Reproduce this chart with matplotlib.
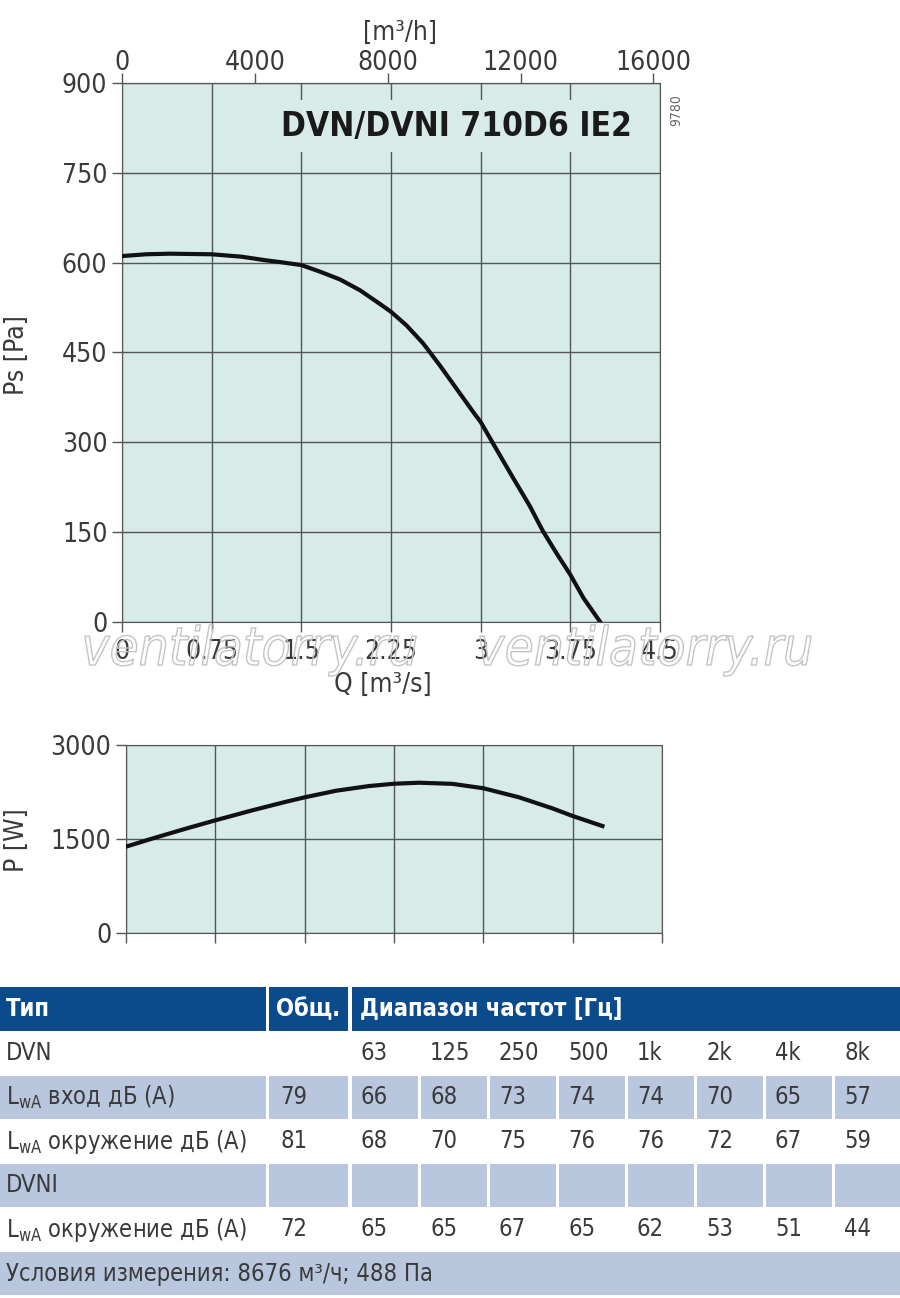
import matplotlib
matplotlib.use('Agg')

import matplotlib.pyplot as plt
import matplotlib.patheffects as pe
from matplotlib.patches import Rectangle

plt.rcParams['font.family'] = ['DejaVu Sans']
plt.rcParams['font.stretch'] = 'condensed'

# Кривая давления Ps(Q)
q_ps = [0, 0.2, 0.4, 0.75, 1.0, 1.2, 1.32, 1.5, 1.656, 1.823, 1.99, 2.158, 2.25, 2.381, 2.52,
        2.66, 2.80, 2.94, 3.0, 3.13, 3.27, 3.41, 3.52, 3.64, 3.75, 3.86, 4.0]
ps = [611, 614, 615, 614, 610, 604, 601, 596, 585, 572, 554, 531, 518, 495, 465,
      428, 389, 350, 334, 289, 241, 194, 152, 113, 79, 40, 0]

# Кривая мощности P(Q)
q_p = [0, 0.229, 0.508, 0.75, 1.065, 1.345, 1.5, 1.763, 2.04, 2.25, 2.46, 2.74, 3.0,
       3.30, 3.58, 3.75, 4.0]
p = [1378, 1512, 1668, 1798, 1960, 2095, 2165, 2270, 2345, 2382, 2398, 2380, 2310,
     2165, 1989, 1867, 1707]

q_ticks = [0, 0.75, 1.5, 2.25, 3, 3.75, 4.5]
q_tick_labels = ['0', '0.75', '1.5', '2.25', '3', '3.75', '4.5']
m3h_ticks = [0, 4000, 8000, 12000, 16000]
ps_ticks = [0, 150, 300, 450, 600, 750, 900]
p_ticks = [0, 1500, 3000]

titulo = 'DVN/DVNI 710D6 IE2'

# Таблица шума
col_tipo = 'Тип'
col_total = 'Общ.'
col_rango = 'Диапазон частот [Гц]'
freqs = ['63', '125', '250', '500', '1k', '2k', '4k', '8k']
row_labels = ['DVN', 'L$_{\\mathregular{wA}}$ вход дБ (А)', 'L$_{\\mathregular{wA}}$ окружение дБ (А)',
              'DVNI', 'L$_{\\mathregular{wA}}$ окружение дБ (А)']
dvn_in_total = '79'
dvn_in = [66, 68, 73, 74, 74, 70, 65, 57]
dvn_env_total = '81'
dvn_env = [68, 70, 75, 76, 76, 72, 67, 59]
dvni_env_total = '72'
dvni_env = [65, 65, 67, 65, 62, 53, 51, 44]
condiciones = 'Условия измерения: 8676 м³/ч; 488 Па'

bg = '#d7ebe9'
grid_c = '#555555'
txt_c = '#3a3a3a'
azul = '#0b4a8b'
azul_claro = '#b8c6de'

fig = plt.figure(figsize=(9, 12.98), dpi=100)

# ---------- grafica de presion ----------
ax = fig.add_axes([122/900, 1-622/1298, 538/900, 539/1298])
ax.set_facecolor(bg)
ax.plot(q_ps, ps, color='#111111', lw=3, zorder=5)
ax.set_xlim(0, 4.5)
ax.set_ylim(0, 900)
ax.set_xticks(q_ticks)
ax.set_xticklabels(q_tick_labels)
ax.set_yticks(ps_ticks)
ax.grid(True, color=grid_c, lw=1)
ax.tick_params(labelsize=19, colors=grid_c, labelcolor=txt_c, length=7, width=1)
ax.tick_params(axis='x', pad=5)
for s in ax.spines.values():
    s.set_color(grid_c)
ax.set_ylabel('Ps [Pa]', fontsize=19, color=txt_c)
ax.yaxis.set_label_coords(-0.172, 0.495)
ax.set_xlabel('Q [m³/s]', fontsize=19, color=txt_c)
ax.xaxis.set_label_coords(0.485, -0.092)

secax = ax.secondary_xaxis('top', functions=(lambda q: q * 3600, lambda h: h / 3600))
secax.set_xticks(m3h_ticks)
secax.tick_params(labelsize=19, colors=grid_c, labelcolor=txt_c, length=7, width=1, pad=-2)
secax.spines['top'].set_color(grid_c)
fig.text(400/900, 1-46/1298, '[m³/h]', fontsize=19, color=txt_c, ha='center', va='bottom')

ax.text(0.948, 0.92, titulo, transform=ax.transAxes, ha='right', va='center',
        fontsize=24, fontweight='bold', color='#1a1a1a', zorder=6,
        bbox=dict(facecolor=bg, edgecolor='none', pad=7))
fig.text(676/900, 1-110/1298, '9780', rotation=90, fontsize=10, color='#666666',
         ha='center', va='center')

# marca de agua
for xc in [250, 645]:
    fig.text(xc/900, 1-650/1298, 'ventilatorry.ru', fontsize=38, style='italic',
             color='none', ha='center', va='center', zorder=10,
             path_effects=[pe.withStroke(linewidth=1, foreground='#c4c4c4')])

# ---------- grafica de potencia ----------
ax2 = fig.add_axes([126/900, 1-933/1298, 536/900, 188/1298])
ax2.set_facecolor(bg)
ax2.plot(q_p, p, color='#111111', lw=3, zorder=5)
ax2.set_xlim(0, 4.5)
ax2.set_ylim(0, 3000)
ax2.set_xticks(q_ticks)
ax2.set_xticklabels([])
ax2.set_yticks(p_ticks)
ax2.grid(True, color=grid_c, lw=1)
ax2.tick_params(labelsize=19, colors=grid_c, labelcolor=txt_c, length=7, width=1)
for s in ax2.spines.values():
    s.set_color(grid_c)
ax2.set_ylabel('P [W]', fontsize=19, color=txt_c)
ax2.yaxis.set_label_coords(-0.18, 0.495)

# ---------- tabla ----------
tab = fig.add_axes([0, 0, 1, 1], zorder=-1)
tab.set_xlim(0, 900)
tab.set_ylim(1298, 0)
tab.axis('off')

col0 = (0, 266)
col1 = (269, 348)
freq_x = [352 + i * 69 for i in range(len(freqs))]
cw = 66
row_y = [1032, 1076, 1120, 1164, 1208, 1252]
rh = 43

def celdas(y, color):
    tab.add_patch(Rectangle((col0[0], y), col0[1] - col0[0], rh, color=color, lw=0))
    tab.add_patch(Rectangle((col1[0], y), col1[1] - col1[0], rh, color=color, lw=0))
    for fx in freq_x:
        tab.add_patch(Rectangle((fx, y), min(cw, 900 - fx), rh, color=color, lw=0))

# encabezado
tab.add_patch(Rectangle((col0[0], 987), col0[1] - col0[0], 44, color=azul, lw=0))
tab.add_patch(Rectangle((col1[0], 987), col1[1] - col1[0], 44, color=azul, lw=0))
tab.add_patch(Rectangle((352, 987), 900 - 352, 44, color=azul, lw=0))
hy = 987 + 22
tab.text(6, hy, col_tipo, color='white', fontsize=17, fontweight='bold', va='center')
tab.text(col1[0] + 7, hy, col_total, color='white', fontsize=17, fontweight='bold', va='center')
tab.text(360, hy, col_rango, color='white', fontsize=17, fontweight='bold', va='center')

celdas(row_y[1], azul_claro)
celdas(row_y[3], azul_claro)
tab.add_patch(Rectangle((0, row_y[5]), 900, rh, color=azul_claro, lw=0))

filas = [('', freqs), (dvn_in_total, dvn_in), (dvn_env_total, dvn_env),
         ('', []), (dvni_env_total, dvni_env)]
for i, (lab, (tot, vals)) in enumerate(zip(row_labels, filas)):
    yc = row_y[i] + rh / 2
    tab.text(6, yc, lab, color=txt_c, fontsize=17, va='center')
    if tot:
        tab.text(col1[0] + 11, yc, tot, color=txt_c, fontsize=17, va='center')
    for fx, v in zip(freq_x, vals):
        tab.text(fx + 9, yc, str(v), color=txt_c, fontsize=17, va='center')

tab.text(6, row_y[5] + rh / 2, condiciones, color=txt_c, fontsize=17, va='center')

plt.savefig('out.png', dpi=100)
plt.close(fig)
